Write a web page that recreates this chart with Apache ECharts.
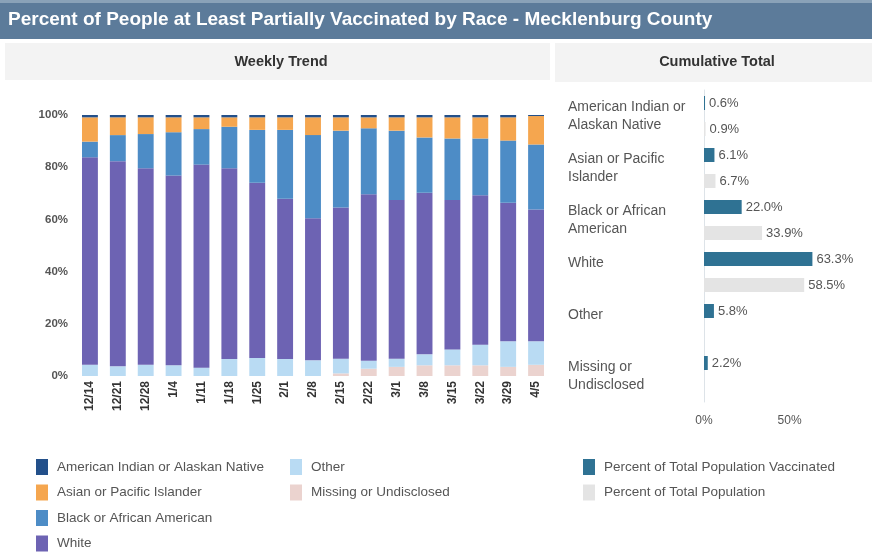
<!DOCTYPE html>
<html>
<head>
<meta charset="utf-8">
<title>Vaccinated by Race - Mecklenburg County</title>
<script src="https://cdn.jsdelivr.net/npm/echarts@6/dist/echarts.min.js"></script>
<style>
    html, body { margin: 0; padding: 0; background: #fff; }
    #chart { width: 872px; height: 552px; }
</style>
</head>
<body>
<div id="chart"></div>
<script>
// weekly trend - share of people vaccinated that week, by race (%)
const weeks = ['12/14', '12/21', '12/28', '1/4', '1/11', '1/18', '1/25', '2/1', '2/8',
    '2/15', '2/22', '3/1', '3/8', '3/15', '3/22', '3/29', '4/5'];
const missing  = [0, 0, 0, 0, 0, 0, 0, 0, 0, 1.0, 2.8, 3.5, 4.1, 4.1, 4.1, 3.5, 4.3];
const other    = [4.3, 3.7, 4.3, 4.1, 3.2, 6.5, 6.9, 6.5, 6.0, 5.6, 3.0, 3.1, 4.2, 6.1, 7.9, 9.8, 9.0];
const white    = [79.5, 78.6, 75.3, 72.7, 77.8, 73.1, 67.1, 61.4, 54.4, 58.0, 63.8, 60.8, 61.9, 57.2, 57.3, 53.1, 50.5];
const black    = [6.0, 10.0, 13.1, 16.6, 13.6, 15.9, 20.3, 26.4, 31.9, 29.4, 25.3, 26.6, 21.2, 23.6, 21.7, 23.8, 24.9];
const asian    = [9.3, 6.8, 6.4, 5.7, 4.5, 3.6, 4.8, 4.8, 6.8, 5.1, 4.2, 5.1, 7.7, 8.1, 8.1, 8.9, 10.9];
const amIndian = [0.9, 0.9, 0.9, 0.9, 0.9, 0.9, 0.9, 0.9, 0.9, 0.9, 0.9, 0.9, 0.9, 0.9, 0.9, 0.9, 0.4];

// cumulative total
const races = ['American Indian or\nAlaskan Native', 'Asian or Pacific\nIslander', 'Black or African\nAmerican',
    'White', 'Other', 'Missing or\nUndisclosed'];
const pctVaccinated = [0.6, 6.1, 22.0, 63.3, 5.8, 2.2];
const pctPopulation = [0.9, 6.7, 33.9, 58.5, null, null];

const yTicks = [0, 20, 40, 60, 80, 100];
const xTicks = [0, 50];

const chart = echarts.init(document.getElementById('chart'));

const txt = '#555';
const font = 'Liberation Sans, Arial, sans-serif';

function stackSeries(name, data, color) {
    return {
        name: name,
        type: 'bar',
        stack: 'race',
        xAxisIndex: 0,
        yAxisIndex: 0,
        data: data,
        barCategoryGap: '43%',
        itemStyle: { color: color },
        emphasis: { disabled: true }
    };
}

const option = {
    animation: false,
    textStyle: { fontFamily: font },
    graphic: [
        { type: 'rect', left: 0, top: 0, shape: { width: 872, height: 39 }, style: { fill: '#5c7b9a' } },
        { type: 'rect', left: 0, top: 0, shape: { width: 872, height: 3 }, style: { fill: '#8aa2b8' } },
        { type: 'text', left: 8, top: 10, style: { text: 'Percent of People at Least Partially Vaccinated by Race - Mecklenburg County',
            fill: '#fff', font: 'bold 19px ' + font } },
        { type: 'rect', left: 5, top: 43, shape: { width: 545, height: 37 }, style: { fill: '#f3f3f3' } },
        { type: 'rect', left: 555, top: 43, shape: { width: 317, height: 39 }, style: { fill: '#f3f3f3' } },
        { type: 'text', x: 281, y: 62, style: { text: 'Weekly Trend', fill: '#333', font: 'bold 14.5px ' + font,
            align: 'center', verticalAlign: 'middle' } },
        { type: 'text', x: 717, y: 62, style: { text: 'Cumulative Total', fill: '#333', font: 'bold 14.5px ' + font,
            align: 'center', verticalAlign: 'middle' } }
    ],
    legend: [
        { data: ['American Indian or Alaskan Native', 'Asian or Pacific Islander', 'Black or African American', 'White'],
          left: 36, top: 459 },
        { data: ['Other', 'Missing or Undisclosed'], left: 290, top: 459 },
        { data: ['Percent of Total Population Vaccinated', 'Percent of Total Population'], left: 583, top: 459 }
    ].map(l => Object.assign(l, {
        orient: 'vertical', icon: 'rect', itemWidth: 12, itemHeight: 16, itemGap: 9.5,
        selectedMode: false, padding: 0,
        textStyle: { color: txt, fontSize: 13.5, fontFamily: font, padding: [0, 0, 0, 4] }
    })),
    grid: [
        { left: 76, right: 322, top: 115, bottom: 176 },
        { left: 704, right: 31, top: 90, bottom: 150 }
    ],
    xAxis: [
        {
            gridIndex: 0, type: 'category', data: weeks,
            axisLine: { show: false }, axisTick: { show: false },
            axisLabel: { rotate: 90, color: '#333', fontSize: 12, fontWeight: 'bold', margin: 5, interval: 0 }
        },
        {
            gridIndex: 1, type: 'value', min: 0, max: 80, interval: 50,
            splitLine: { show: false }, axisLine: { show: false }, axisTick: { show: false },
            axisLabel: {
                color: txt, fontSize: 12, margin: 13,
                formatter: v => xTicks.includes(v) ? v + '%' : ''
            }
        }
    ],
    yAxis: [
        {
            gridIndex: 0, type: 'value', min: 0, max: 100, interval: 20,
            splitLine: { show: false }, axisLine: { show: false },
            axisLabel: {
                color: txt, fontSize: 11.5, fontWeight: 'bold', margin: 8,
                formatter: v => yTicks.includes(v) ? v + '%' : ''
            }
        },
        {
            gridIndex: 1, type: 'category', data: races, inverse: true,
            axisLine: { show: true, lineStyle: { color: '#dde3e8', width: 1 } },
            axisTick: { show: false },
            axisLabel: {
                color: txt, fontSize: 14, align: 'left', margin: 136, lineHeight: 18,
                formatter: v => v.includes('\n') ? v : v + '\n '
            }
        }
    ],
    series: [
        stackSeries('Missing or Undisclosed', missing, '#ebd3cf'),
        stackSeries('Other', other, '#b9dbf3'),
        stackSeries('White', white, '#6d63b3'),
        stackSeries('Black or African American', black, '#4d8cc6'),
        stackSeries('Asian or Pacific Islander', asian, '#f5a64f'),
        stackSeries('American Indian or Alaskan Native', amIndian, '#23508a'),
        {
            name: 'Percent of Total Population Vaccinated', type: 'bar',
            xAxisIndex: 1, yAxisIndex: 1, data: pctVaccinated,
            barWidth: 14, barGap: '86%',
            itemStyle: { color: '#2f7293' },
            label: { show: true, position: 'right', distance: 4, color: txt, fontSize: 13,
                formatter: p => p.value.toFixed(1) + '%' },
            emphasis: { disabled: true }
        },
        {
            name: 'Percent of Total Population', type: 'bar',
            xAxisIndex: 1, yAxisIndex: 1, data: pctPopulation,
            barWidth: 14, barGap: '86%',
            itemStyle: { color: '#e4e4e4' },
            label: { show: true, position: 'right', distance: 4, color: txt, fontSize: 13,
                formatter: p => p.value == null ? '' : p.value.toFixed(1) + '%' },
            emphasis: { disabled: true }
        }
    ]
};

chart.setOption(option);
</script>
</body>
</html>
